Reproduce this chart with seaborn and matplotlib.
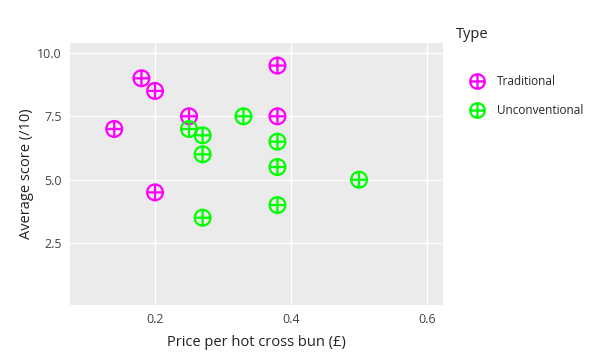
import pandas as pd
import seaborn as sns
import matplotlib.pyplot as plt
from matplotlib.path import Path
from matplotlib.lines import Line2D

# values
trad_price = [0.14, 0.18, 0.20, 0.20, 0.25, 0.38, 0.38]
trad_score = [7.0, 9.0, 8.5, 4.5, 7.5, 9.5, 7.5]
unconv_price = [0.25, 0.27, 0.27, 0.27, 0.33, 0.38, 0.38, 0.38, 0.50]
unconv_score = [7.0, 6.75, 6.0, 3.5, 7.5, 6.5, 5.5, 4.0, 5.0]
types = ['Traditional', 'Unconventional']
colors = {'Traditional': '#FF00FF', 'Unconventional': '#00FF00'}

df = pd.DataFrame({
    'Price': trad_price + unconv_price,
    'Score': trad_score + unconv_score,
    'Type': [types[0]] * len(trad_price) + [types[1]] * len(unconv_price),
})

# circle with a cross inside (plotly "circle-cross-open")
circle_cross = Path.make_compound_path(
    Path.unit_circle(),
    Path([[-1, 0], [1, 0]], [Path.MOVETO, Path.LINETO]),
    Path([[0, -1], [0, 1]], [Path.MOVETO, Path.LINETO]),
)

sns.set_style('white')
plt.rcParams['font.family'] = ['Open Sans', 'DejaVu Sans']

fig = plt.figure(figsize=(6.12, 3.62), dpi=100)
ax = fig.add_axes([0.1144, 0.1575, 0.6095, 0.7237])
ax.set_facecolor('#EBEBEB')

sns.scatterplot(data=df, x='Price', y='Score', hue='Type', palette=colors,
                marker=circle_cross, s=130, linewidth=1.6, legend=False, ax=ax, zorder=3)
coll = ax.collections[0]
coll.set_edgecolors(coll.get_facecolors())
coll.set_facecolors('none')

ax.set_xlim(0.075, 0.6235)
ax.set_ylim(0.06, 10.39)
ax.set_xticks([0.2, 0.4, 0.6])
ax.set_xticklabels(['0.2', '0.4', '0.6'])
ax.set_yticks([2.5, 5.0, 7.5, 10.0])
ax.set_yticklabels(['2.5', '5.0', '7.5', '10.0'])
ax.grid(True, color='white', linewidth=1.0)
ax.set_axisbelow(True)
for s in ax.spines.values():
    s.set_visible(False)
ax.tick_params(axis='both', direction='out', length=4, width=1, color='#333333',
               labelcolor='#444444', labelsize=9, pad=2)
ax.set_xlabel('Price per hot cross bun (£)', fontsize=10.5, color='#222222', labelpad=6)
ax.set_ylabel('Average score (/10)', fontsize=10.5, color='#222222', labelpad=2)

fig.text(456 / 612, 1 - 34 / 362, 'Type', fontsize=10.5, color='#222222', va='center', ha='left')
handles = [Line2D([], [], linestyle='none', marker=circle_cross, markersize=10.5,
                  markerfacecolor='none', markeredgecolor=colors[t], markeredgewidth=1.6)
           for t in types]
fig.legend(handles, types, loc='upper left', bbox_to_anchor=(470 / 612, 1 - 75 / 362),
           frameon=False, fontsize=8.5, handlelength=1.2, handletextpad=1.1,
           labelspacing=1.35, borderaxespad=0, borderpad=0)

plt.savefig('out.png', dpi=100)
